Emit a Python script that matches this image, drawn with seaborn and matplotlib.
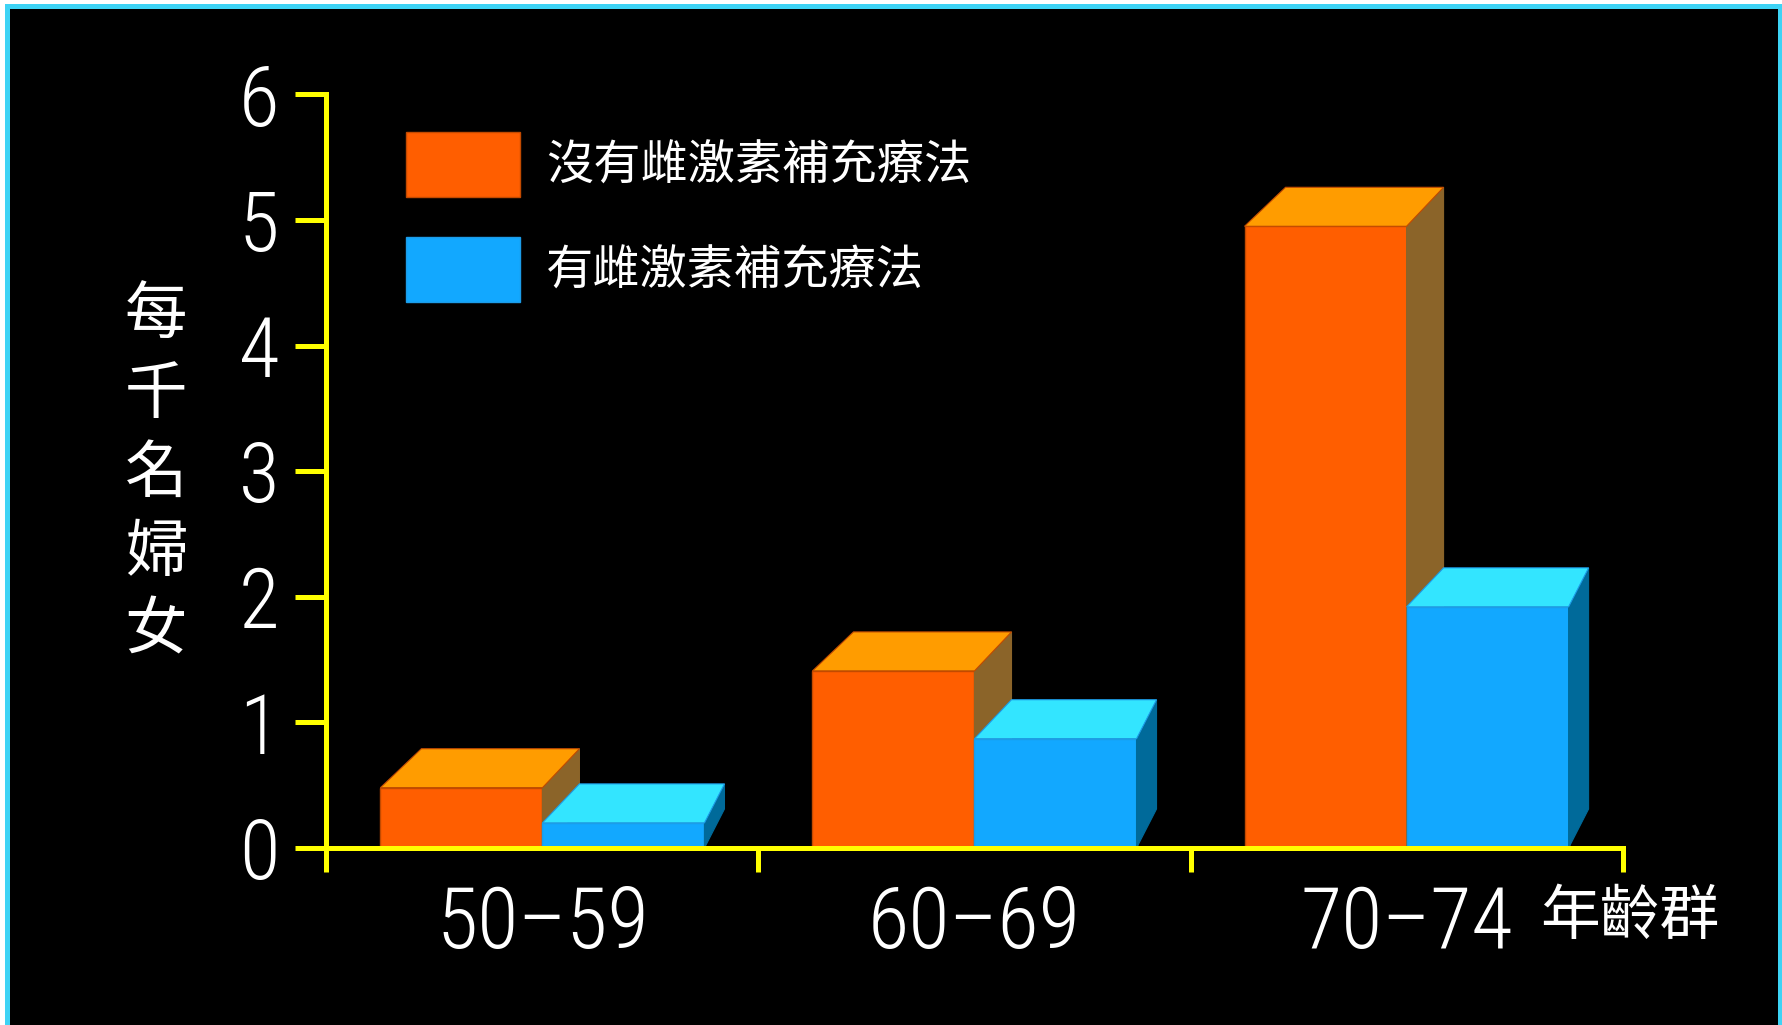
import matplotlib
matplotlib.use("Agg")
import matplotlib.pyplot as plt
import seaborn as sns
import pandas as pd
from matplotlib.patches import Polygon, Rectangle, Patch

# ---------------- data ----------------
age_groups = ["50–59", "60–69", "70–74"]
series_names = ["沒有雌激素補充療法", "有雌激素補充療法"]
no_hrt = [0.48, 1.41, 4.95]
with_hrt = [0.20, 0.87, 1.92]
y_ticks = [0, 1, 2, 3, 4, 5, 6]
y_label = "每千名婦女"
x_label = "年齡群"

# ---------------- styles ----------------
front_colors = ["#FF5E00", "#12A8FF"]
top_colors = ["#FF9C00", "#33E5FF"]
side_colors = ["#8B6429", "#006A9A"]
edge_colors = ["#C24A00", "#1C9CE8"]
YELLOW = "#FFFF00"
BORDER = "#3DD3F5"
NUM_FONT = ["Roboto Condensed", "Liberation Sans Narrow", "Roboto", "Noto Sans CJK TC", "DejaVu Sans"]

sns.set_style("white")
plt.rcParams["font.family"] = ["Noto Sans CJK TC", "DejaVu Sans"]

W, H = 1783, 1025
fig = plt.figure(figsize=(W / 100, H / 100), dpi=100, facecolor="white")
fig.add_artist(Rectangle((5 / W, 0), 1 - 5 / W, 1 - 4 / H, transform=fig.transFigure,
                         facecolor=BORDER, edgecolor="none", zorder=-10))
fig.add_artist(Rectangle((10 / W, 0), (1778 - 10) / W, 1 - 9 / H, transform=fig.transFigure,
                         facecolor="black", edgecolor="none", zorder=-9))

ax_l, ax_r, ax_t, ax_b = 326.4, 1622.6, 94.4, 848.0
ax = fig.add_axes([ax_l / W, 1 - ax_b / H, (ax_r - ax_l) / W, (ax_b - ax_t) / H])
ax.set_facecolor("none")

df = pd.DataFrame({
    "age": age_groups * 2,
    "value": no_hrt + with_hrt,
    "series": [series_names[0]] * len(age_groups) + [series_names[1]] * len(age_groups),
})
sns.barplot(data=df, x="age", y="value", hue="series", order=age_groups,
            hue_order=series_names, palette=front_colors, width=0.75,
            saturation=1, errorbar=None, legend=False, ax=ax)

ax.set_xlim(-0.5, 2.5)
ax.set_ylim(0, 6)

# pixel -> data conversions for the pseudo-3D depth
px_x = (ax_r - ax_l) / 3.0
px_y = (ax_b - ax_t) / 6.0
DY = 39 / px_y
depth = [(41, 37), (37, 20)]  # back-left / back-right shift in px per series

for si, cont in enumerate(ax.containers):
    base_z = 1 + 2 * si
    for bar in cont:
        bar.set_zorder(base_z)
        bar.set_edgecolor(edge_colors[si])
        bar.set_linewidth(1.0)
        x0 = bar.get_x()
        x1 = x0 + bar.get_width()
        h = bar.get_height()
        dl = depth[si][0] / px_x
        dr = depth[si][1] / px_x
        top = Polygon([(x0, h), (x1, h), (x1 + dr, h + DY), (x0 + dl, h + DY)],
                      closed=True, facecolor=top_colors[si], edgecolor=edge_colors[si],
                      linewidth=0.8, zorder=base_z + 0.5)
        side = Polygon([(x1, 0), (x1, h), (x1 + dr, h + DY), (x1 + dr, DY)],
                       closed=True, facecolor=side_colors[si], edgecolor=side_colors[si],
                       linewidth=0.8, zorder=base_z + 0.4)
        ax.add_patch(side)
        ax.add_patch(top)

# ---------------- axes ----------------
for s in ["top", "right"]:
    ax.spines[s].set_visible(False)
for s in ["left", "bottom"]:
    ax.spines[s].set_color(YELLOW)
    ax.spines[s].set_linewidth(3.6)
    ax.spines[s].set_zorder(10)
ax.grid(False)

ax.set_yticks(y_ticks)
ax.set_yticklabels([str(t) for t in y_ticks])
ax.tick_params(axis="y", which="major", left=True, direction="out", length=22, width=3.6,
               color=YELLOW, labelcolor="white", labelsize=60, pad=12)
for lab in ax.get_yticklabels():
    lab.set_fontfamily(NUM_FONT)
    lab.set_fontweight("light")

ax.set_xticks([-0.5, 0.5, 1.5, 2.5])
ax.set_xticklabels([])
ax.set_xticks([0, 1, 2], labels=age_groups, minor=True)
ax.tick_params(axis="x", which="major", bottom=True, direction="out", length=17,
               width=3.6, color=YELLOW)
ax.tick_params(axis="x", which="minor", bottom=True, length=0, labelcolor="white",
               labelsize=61, pad=26)
for lab in ax.get_xticklabels(minor=True):
    lab.set_fontfamily(NUM_FONT)
    lab.set_fontweight("light")

ax.set_ylabel("\n".join(y_label), rotation=0, fontsize=45, color="white",
              linespacing=1.297, ha="center", va="center")
ax.yaxis.set_label_coords(-0.1315, 0.4963)
ax.set_xlabel(x_label, fontsize=43, color="white", ha="center", va="center")
ax.xaxis.set_label_coords(1.0057, -0.0916)

handles = [Patch(facecolor=front_colors[i], edgecolor=edge_colors[i], label=series_names[i])
           for i in range(2)]
ax.legend(handles=handles, loc="upper left",
          bbox_to_anchor=((406 - ax_l) / (ax_r - ax_l), (ax_b - 132) / (ax_b - ax_t)),
          frameon=False, borderpad=0, borderaxespad=0, fontsize=34,
          handlelength=2.42, handleheight=1.742, handletextpad=0.55,
          labelspacing=0.85, labelcolor="white")

fig.savefig("out.png", dpi=100, facecolor=fig.get_facecolor())
